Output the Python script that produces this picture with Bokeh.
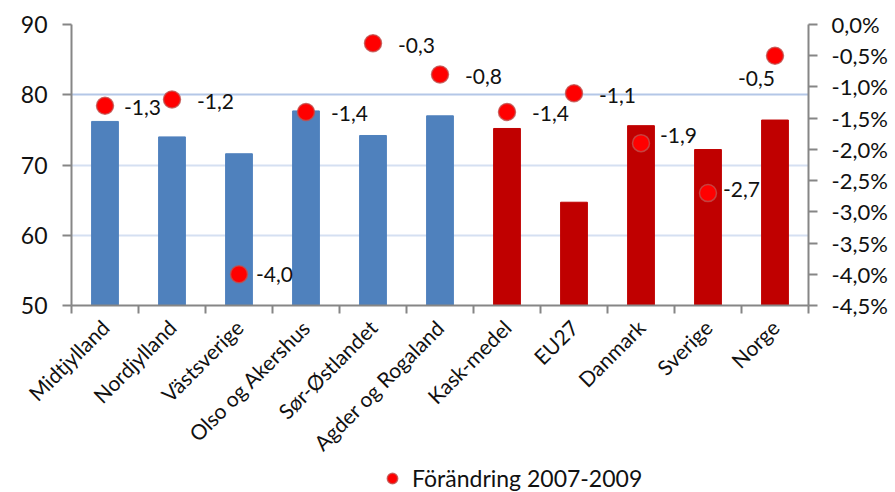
from bokeh.plotting import figure
from bokeh.layouts import column
from bokeh.models import (Range1d, LinearAxis, FixedTicker, CustomJSTickFormatter,
                          ColumnDataSource, Legend, LegendItem, Grid)
from bokeh.core.properties import value
from bokeh.embed import file_html
from bokeh.resources import INLINE
import math

# ---- data ----
categories = ["Midtjylland", "Nordjylland", "Västsverige", "Olso og Akershus", "Sør-Østlandet",
              "Agder og Rogaland", "Kask-medel", "EU27", "Danmark", "Sverige", "Norge"]
bar_values = [76.2, 74.0, 71.6, 77.7, 74.2, 77.0, 75.2, 64.7, 75.6, 72.2, 76.4]
change_pct = [-1.3, -1.2, -4.0, -1.4, -0.3, -0.8, -1.4, -1.1, -1.9, -2.7, -0.5]
group = ["region"] * 6 + ["land"] * 5
left_ticks = [50, 60, 70, 80, 90]
right_ticks = [0.0, -0.5, -1.0, -1.5, -2.0, -2.5, -3.0, -3.5, -4.0, -4.5]
legend_label = "Förändring 2007-2009"

# ---- derived positions (category slots) ----
n = len(categories)
xpos = [i + 0.5 for i in range(n)]
boundaries = list(range(n + 1))

# ---- styles ----
FONT = "Lato"
colors = {"region": "#4f81bd", "land": "#c00000"}
bar_colors = [colors[g] for g in group]
label_text = [f"{v:.1f}".replace(".", ",") for v in change_pct]
default_dx, default_dy = 25, 2
offset_overrides = {"Midtjylland": (19, 2), "Västsverige": (17, 0), "Danmark": (19, -8),
                    "Sverige": (15, -4), "Norge": (-37, 23)}
dx = [offset_overrides.get(c, (default_dx, default_dy))[0] for c in categories]
dy = [offset_overrides.get(c, (default_dx, default_dy))[1] for c in categories]

src = ColumnDataSource(dict(x=xpos, cat=categories, val=bar_values, pct=change_pct, color=bar_colors,
                            lbl=label_text, dx=dx, dy=dy))

p = figure(x_range=Range1d(0, n), y_range=Range1d(50, 90), width=895, height=466,
           output_backend="svg", toolbar_location=None, x_axis_location=None,
           y_axis_location=None, min_border_left=71, min_border_right=87,
           min_border_top=24, min_border_bottom=142)
p.outline_line_color = None
p.background_fill_color = "white"
p.grid.visible = False
p.extra_y_ranges = {"pct": Range1d(-4.5, 0.0)}

AX = "#868686"
yl = LinearAxis(ticker=FixedTicker(ticks=left_ticks))
yr = LinearAxis(y_range_name="pct", ticker=FixedTicker(ticks=right_ticks),
                formatter=CustomJSTickFormatter(code="return tick.toFixed(1).replace('.', ',') + '%';"))
for ax, fs in ((yl, "23px"), (yr, "22px")):
    ax.axis_line_color = AX
    ax.axis_line_width = 2
    ax.major_tick_line_color = AX
    ax.major_tick_line_width = 2
    ax.major_tick_out = 9
    ax.major_tick_in = 0
    ax.minor_tick_line_color = None
    ax.major_label_text_font = FONT
    ax.major_label_text_font_size = fs
    ax.major_label_text_color = "#111111"
yl.major_label_standoff = 15
yr.major_label_standoff = 14
p.add_layout(yl, "left")
p.add_layout(yr, "right")

# bottom tick axis at category boundaries (no labels)
xt = LinearAxis(ticker=FixedTicker(ticks=boundaries),
                formatter=CustomJSTickFormatter(code="return '';"))
xt.axis_line_color = AX
xt.axis_line_width = 2
xt.major_tick_line_color = AX
xt.major_tick_line_width = 2
xt.major_tick_out = 8
xt.major_tick_in = 0
xt.minor_tick_line_color = None
xt.major_label_standoff = 0
xt.major_label_text_font_size = "1px"
p.add_layout(xt, "below")

# category label axis
xc = LinearAxis(ticker=FixedTicker(ticks=xpos),
                major_label_overrides={x: c for x, c in zip(xpos, categories)})
xc.axis_line_color = None
xc.major_tick_line_color = None
xc.minor_tick_line_color = None
xc.major_label_orientation = math.pi / 4
xc.major_label_text_font = FONT
xc.major_label_text_font_size = "21px"
xc.major_label_text_color = "#111111"
xc.major_label_standoff = 4
p.add_layout(xc, "below")

# grid
g1 = Grid(dimension=1, ticker=FixedTicker(ticks=[80, 90]), grid_line_color="#b4c7e7", grid_line_width=2)
g2 = Grid(dimension=1, ticker=FixedTicker(ticks=[60, 70]), grid_line_color="#d5e0f2", grid_line_width=2)
p.add_layout(g1)
p.add_layout(g2)

MARK = dict(fill_color="#ff0000", line_color="#c0504d", line_width=1.5, line_alpha=0.8)
p.vbar(x="x", top="val", bottom=50, width=0.4, color="color", source=src)
r = p.scatter(x="x", y="pct", y_range_name="pct", size=17, source=src, **MARK)
p.text(x="x", y="pct", y_range_name="pct", text="lbl", x_offset="dx", y_offset="dy",
       text_font=value(FONT), text_font_size="21px", text_color="#111111",
       text_align="left", text_baseline="middle", source=src)

# legend strip below the chart (key renderer's points fall outside this strip's range)
lg = figure(x_range=Range1d(0, 1), y_range=Range1d(0, 1), width=895, height=26,
            output_backend="svg", toolbar_location=None, x_axis_location=None,
            y_axis_location=None, min_border=0, min_border_left=0, min_border_right=0,
            min_border_top=0, min_border_bottom=0)
lg.outline_line_color = None
lg.grid.visible = False
key = lg.scatter(x="x", y="pct", size=17, source=src, **MARK)
legend = Legend(items=[LegendItem(label=legend_label, renderers=[key])], location=(301, 0),
                padding=0, margin=0, spacing=0, glyph_width=40, glyph_height=26, label_standoff=-7,
                background_fill_alpha=0, border_line_color=None,
                label_text_font=FONT, label_text_font_size="23px", label_text_color="#111111")
lg.add_layout(legend, "center")

open("out.html", "w").write(file_html(column(p, lg, spacing=0), INLINE))
